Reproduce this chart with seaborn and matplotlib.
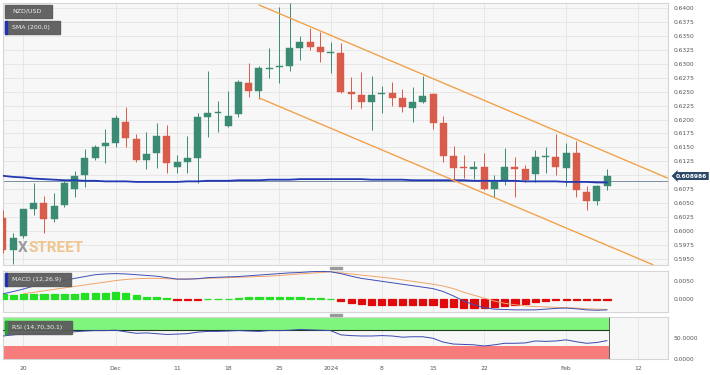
import numpy as np
import pandas as pd
import matplotlib
matplotlib.use("Agg")
import matplotlib.pyplot as plt
from matplotlib.patches import Rectangle
import seaborn as sns

# ---------------- data ----------------
start_date = "2023-11-16"
opens  = [0.6023,0.5966,0.5991,0.6039,0.6050,0.6021,0.6047,0.6075,0.6100,0.6131,
          0.6153,0.6158,0.6196,0.6165,0.6127,0.6140,0.6171,0.6115,0.6124,0.6131,
          0.6205,0.6211,0.6188,0.6210,0.6266,0.6251,0.6291,0.6295,0.6296,0.6329,
          0.6339,0.6330,0.6320,0.6320,0.6250,0.6244,0.6232,0.6246,0.6248,0.6239,
          0.6221,0.6232,0.6246,0.6194,0.6135,0.6115,0.6112,0.6115,0.6075,0.6090,
          0.6115,0.6111,0.6102,0.6132,0.6133,0.6113,0.6140,0.6070,0.6054,0.6081]
highs  = [0.6038,0.5996,0.6040,0.6086,0.6063,0.6068,0.6090,0.6108,0.6147,0.6154,
          0.6183,0.6208,0.6223,0.6174,0.6178,0.6194,0.6190,0.6136,0.6171,0.6212,
          0.6287,0.6233,0.6251,0.6271,0.6302,0.6296,0.6329,0.6402,0.6410,0.6350,
          0.6365,0.6357,0.6339,0.6338,0.6277,0.6286,0.6278,0.6260,0.6268,0.6255,
          0.6259,0.6278,0.6248,0.6206,0.6153,0.6136,0.6126,0.6140,0.6100,0.6149,
          0.6133,0.6118,0.6145,0.6151,0.6174,0.6158,0.6162,0.6081,0.6082,0.6111]
lows   = [0.5960,0.5941,0.5988,0.6029,0.5996,0.6016,0.6043,0.6061,0.6079,0.6127,
          0.6122,0.6151,0.6151,0.6124,0.6111,0.6113,0.6104,0.6104,0.6104,0.6086,
          0.6169,0.6178,0.6187,0.6205,0.6241,0.6237,0.6275,0.6266,0.6287,0.6307,
          0.6325,0.6303,0.6284,0.6248,0.6219,0.6221,0.6181,0.6212,0.6224,0.6214,
          0.6196,0.6230,0.6183,0.6124,0.6088,0.6095,0.6093,0.6073,0.6061,0.6082,
          0.6061,0.6088,0.6088,0.6104,0.6100,0.6081,0.6061,0.6038,0.6047,0.6073]
closes = [0.5966,0.5987,0.6039,0.6050,0.6021,0.6045,0.6086,0.6099,0.6131,0.6151,
          0.6158,0.6203,0.6167,0.6127,0.6138,0.6171,0.6122,0.6124,0.6131,0.6205,
          0.6212,0.6213,0.6206,0.6268,0.6251,0.6293,0.6293,0.6296,0.6329,0.6339,
          0.6330,0.6322,0.6322,0.6250,0.6246,0.6232,0.6244,0.6248,0.6239,0.6223,
          0.6232,0.6242,0.6194,0.6135,0.6113,0.6113,0.6114,0.6075,0.6088,0.6115,
          0.6111,0.6091,0.6133,0.6134,0.6115,0.6140,0.6073,0.6054,0.6081,0.6099]
sma200 = [0.6099,0.6097,0.6096,0.6094,0.6093,0.6092,0.6091,0.6091,0.6090,0.6090,
          0.6089,0.6089,0.6089,0.6088,0.6088,0.6088,0.6088,0.6088,0.6089,0.6089,
          0.6090,0.6090,0.6090,0.6091,0.6091,0.6091,0.6092,0.6092,0.6092,0.6093,
          0.6093,0.6093,0.6093,0.6093,0.6093,0.6093,0.6092,0.6092,0.6092,0.6092,
          0.6091,0.6091,0.6091,0.6091,0.6091,0.6091,0.6090,0.6090,0.6090,0.6090,
          0.6090,0.6089,0.6089,0.6089,0.6089,0.6088,0.6088,0.6088,0.6087,0.6087]
current_price = 0.608986

channel_x     = [25.0, 64.9]
channel_upper = [0.6406, 0.6095]
channel_x_low = [25.0, 63.5]
channel_lower = [0.6239, 0.5939]

macd_line = [0.0014,0.0020,0.0027,0.0035,0.0040,0.0044,0.0050,0.0056,0.0061,0.0066,
             0.0068,0.0069,0.0068,0.0066,0.0064,0.0062,0.0058,0.0054,0.0054,0.0055,
             0.0058,0.0059,0.0060,0.0061,0.0063,0.0065,0.0067,0.0069,0.0071,0.0072,
             0.0074,0.0075,0.0074,0.0069,0.0062,0.0056,0.0052,0.0048,0.0044,0.0040,
             0.0036,0.0032,0.0028,0.0020,0.0008,-0.0006,-0.0016,-0.0024,-0.0028,-0.0029,
             -0.0030,-0.0030,-0.0030,-0.0028,-0.0026,-0.0025,-0.0027,-0.0030,-0.0031,-0.0030]
signal_line = [np.nan,np.nan,0.0014,0.0018,0.0022,0.0026,0.0030,0.0034,0.0038,0.0042,
               0.0046,0.0050,0.0053,0.0055,0.0056,0.0056,0.0055,0.0054,0.0054,0.0055,
               0.0056,0.0057,0.0058,0.0059,0.0060,0.0061,0.0062,0.0064,0.0066,0.0068,
               0.0070,0.0072,0.0074,0.0071,0.0068,0.0065,0.0062,0.0059,0.0056,0.0052,
               0.0048,0.0044,0.0040,0.0035,0.0028,0.0018,0.0010,0.0002,-0.0006,-0.0012,
               -0.0016,-0.0019,-0.0021,-0.0022,-0.0023,-0.0024,-0.0025,-0.0027,-0.0028,-0.0029]
macd_hist = [0.00125,0.00116,0.00134,0.00143,0.00143,0.00143,0.00143,0.00143,0.00152,0.00161,
             0.00161,0.00188,0.00152,0.00099,0.00063,0.00045,0.00020,-0.00030,-0.00040,-0.00020,
             0.00005,0.00005,0.00010,0.00030,0.00040,0.00045,0.00045,0.00045,0.00045,0.00040,
             0.00030,0.00020,0.00005,-0.00060,-0.00120,-0.00150,-0.00160,-0.00170,-0.00170,-0.00180,
             -0.00180,-0.00170,-0.00170,-0.00210,-0.00230,-0.00250,-0.00250,-0.00250,-0.00230,-0.00200,
             -0.00180,-0.00140,-0.00090,-0.00050,-0.00030,-0.00020,-0.00020,-0.00020,-0.00020,-0.00020]
rsi_line = [54.8,57.5,60.3,61.2,60.3,62.1,63.9,64.8,66.6,67.6,
            67.6,68.5,64.8,61.2,62.1,60.3,58.4,59.3,60.3,63.9,
            65.7,65.7,66.6,67.6,66.6,65.7,67.6,67.6,68.5,70.3,
            69.4,68.5,67.6,57.5,55.7,54.8,54.8,55.7,54.8,52.0,
            53.0,53.0,49.3,40.2,35.6,34.7,33.8,31.0,33.8,37.4,
            37.4,38.3,42.9,42.0,42.9,45.6,41.1,37.4,39.3,43.8]
rsi_upper, rsi_lower = 70, 30

tick_dates  = ["2023-11-20","2023-12-01","2023-12-11","2023-12-18","2023-12-25",
               "2024-01-01","2024-01-08","2024-01-15","2024-01-22","2024-02-01","2024-02-12"]
tick_labels = ["20","Dec","11","18","25","2024","8","15","22","Feb","12"]
price_ticks = [0.5950 + 0.0025 * k for k in range(19)]

# ---------------- styling ----------------
sns.set_theme(style="white")
plt.rcParams["font.family"] = ["DejaVu Sans"]
W, H = 710, 375
BG = "#f7f7f7"
GRID = "#e4e4e4"
SPINE = "#d6d6d6"
TXT = "#555555"
GREEN_C = "#3b8a73"
RED_C = "#d95b4a"

n = len(opens)
x = np.arange(n)
dates_ext = pd.bdate_range(start_date, periods=n + 10)
tick_pos = [int(np.where(dates_ext == pd.Timestamp(d))[0][0]) for d in tick_dates]

df = pd.DataFrame({"x": x, "open": opens, "high": highs, "low": lows, "close": closes,
                   "sma": sma200, "macd": macd_line, "signal": signal_line,
                   "hist": macd_hist, "rsi": rsi_line})

fig = plt.figure(figsize=(W / 100, H / 100), dpi=100)
fig.patch.set_facecolor("white")

def fx(px):
    return px / W

def fy(py):
    return 1 - py / H

def axes_px(x0, y0, x1, y1):
    return fig.add_axes([fx(x0), fy(y1), fx(x1) - fx(x0), (y1 - y0) / H])

ax = axes_px(3, 3, 668, 265)
axm = axes_px(3, 271, 668, 312)
axr = axes_px(3, 317, 668, 359)

xlim = (0, 64.95)
for a in (ax, axm, axr):
    a.set_facecolor(BG)
    a.set_xlim(*xlim)
    for s in a.spines.values():
        s.set_color(SPINE)
        s.set_linewidth(0.8)
    a.set_xticks(tick_pos)
    a.grid(True, axis="x", color=GRID, lw=0.6)
    a.yaxis.tick_right()
    a.tick_params(axis="both", length=0, labelsize=4.3, labelcolor=TXT, pad=4)
for a in (ax, axm):
    a.set_xticklabels([])
axr.set_xticklabels(tick_labels)
axr.tick_params(axis="x", pad=5)

# ---- main panel ----
ax.set_ylim(0.59387, 0.64095)
ax.set_yticks(price_ticks)
# the 0.6100 label sits under the current-price tag, as in the source chart
ax.set_yticklabels(["" if abs(v - 0.6100) < 1e-9 else f"{v:.4f}" for v in price_ticks])
ax.grid(True, axis="y", color=GRID, lw=0.6)
ax.set_axisbelow(True)

ax.axhline(current_price, color="#7d8da3", lw=0.7, zorder=2)

up = df["close"] >= df["open"]
col = np.where(up, GREEN_C, RED_C)
ax.vlines(df["x"], df["low"], df["high"], colors=col, lw=0.7, zorder=3)
body_lo = np.minimum(df["open"], df["close"])
body_h = np.maximum(np.abs(df["close"] - df["open"]), 0.00004)
ax.bar(df["x"], body_h, bottom=body_lo, width=0.68, color=col, edgecolor=col, lw=0.3, zorder=4)

sns.lineplot(data=df, x="x", y="sma", ax=ax, color="#2338b5", lw=1.3, zorder=5, legend=False)
sns.lineplot(x=channel_x, y=channel_upper, ax=ax, color="#f2a24a", lw=1.0, zorder=5)
sns.lineplot(x=channel_x_low, y=channel_lower, ax=ax, color="#f2a24a", lw=1.0, zorder=5)
ax.set_xlim(*xlim)
ax.set_xlabel("")
ax.set_ylabel("")

# watermark
wm_font = ["Roboto", "DejaVu Sans"]
tX = fig.text(fx(18), fy(252), "X", fontsize=11, fontweight="bold",
              color="#9a9a9a", family=wm_font, zorder=1, va="baseline", ha="left")
fig.canvas.draw()
bbX = tX.get_window_extent()
fig.text(bbX.x1 / W + fx(0.5), fy(252), "STREET", fontsize=11, fontweight="bold",
         color="#f0c48e", family=wm_font, zorder=1, va="baseline", ha="left")

# ---- MACD panel ----
axm.set_ylim(-0.00358, 0.00761)
axm.set_yticks([0.0, 0.005])
axm.set_yticklabels(["0.0000", "0.0050"])
hcol = np.where(df["hist"] >= 0, "#24e024", "#e00a0a")
axm.bar(df["x"], df["hist"], width=0.7, color=hcol, edgecolor=hcol, lw=0.9, zorder=3)
sns.lineplot(data=df, x="x", y="signal", ax=axm, color="#f0a46a", lw=0.7, zorder=4)
sns.lineplot(data=df, x="x", y="macd", ax=axm, color="#3f4fb5", lw=0.7, zorder=5)
axm.set_xlim(*xlim)
axm.set_xlabel("")
axm.set_ylabel("")

# ---- RSI panel ----
axr.set_ylim(0, 100)
axr.set_yticks([0, 50])
axr.set_yticklabels(["0.0000", "50.0000"])
band_x = [xlim[0], n - 1 + 0.2]
axr.fill_between(band_x, rsi_upper, 100, color="#80f57d", lw=0, zorder=2)
axr.fill_between(band_x, 0, rsi_lower, color="#f77c7c", lw=0, zorder=2)
axr.plot(band_x, [rsi_upper, rsi_upper], color="#1d3b1d", lw=0.8, zorder=3)
axr.vlines(band_x[1], 0, 100, color="#444444", lw=0.6, zorder=3)
sns.lineplot(data=df, x="x", y="rsi", ax=axr, color="#3a48b0", lw=0.7, zorder=4)
axr.set_xlim(*xlim)
axr.set_ylim(0, 100)
axr.set_xlabel("")
axr.set_ylabel("")

# ---- label boxes ----
def label_box(x0, y0, x1, y1, text, accent=None):
    fig.add_artist(Rectangle((fx(x0), fy(y1)), fx(x1) - fx(x0), (y1 - y0) / H,
                             transform=fig.transFigure, color="#5c5c5c", alpha=0.95, zorder=10))
    if accent:
        fig.add_artist(Rectangle((fx(x0), fy(y1)), fx(2), (y1 - y0) / H,
                                 transform=fig.transFigure, color=accent, zorder=11))
    fig.text(fx(x0 + 7), fy((y0 + y1) / 2), text, fontsize=4.5, color="#eeeeee",
             va="center", ha="left", zorder=12)

label_box(5, 5, 52, 17.5, "NZD/USD")
label_box(5, 21, 60, 34, "SMA (200,0)", accent="#1f33b0")
label_box(5, 273, 71, 286, "MACD (12,26,9)", accent="#1f33b0")
label_box(5, 321, 72, 334, "RSI (14,70,30,1)", accent="#2a9a3a")

# panel separator handles
for yy in (267, 314):
    fig.add_artist(Rectangle((fx(330), fy(yy + 2)), fx(12), 2 / H,
                             transform=fig.transFigure, color="#9a9a9a", zorder=10))

# current price tag
fig.text(fx(676), fy(176), f"{current_price:.6f}", fontsize=4.3, fontweight="bold",
         color="white", va="center", ha="left", zorder=12,
         bbox=dict(boxstyle="larrow,pad=0.25", fc="#2c4868", ec="none"))

fig.savefig("out.png", dpi=100, facecolor="white")
